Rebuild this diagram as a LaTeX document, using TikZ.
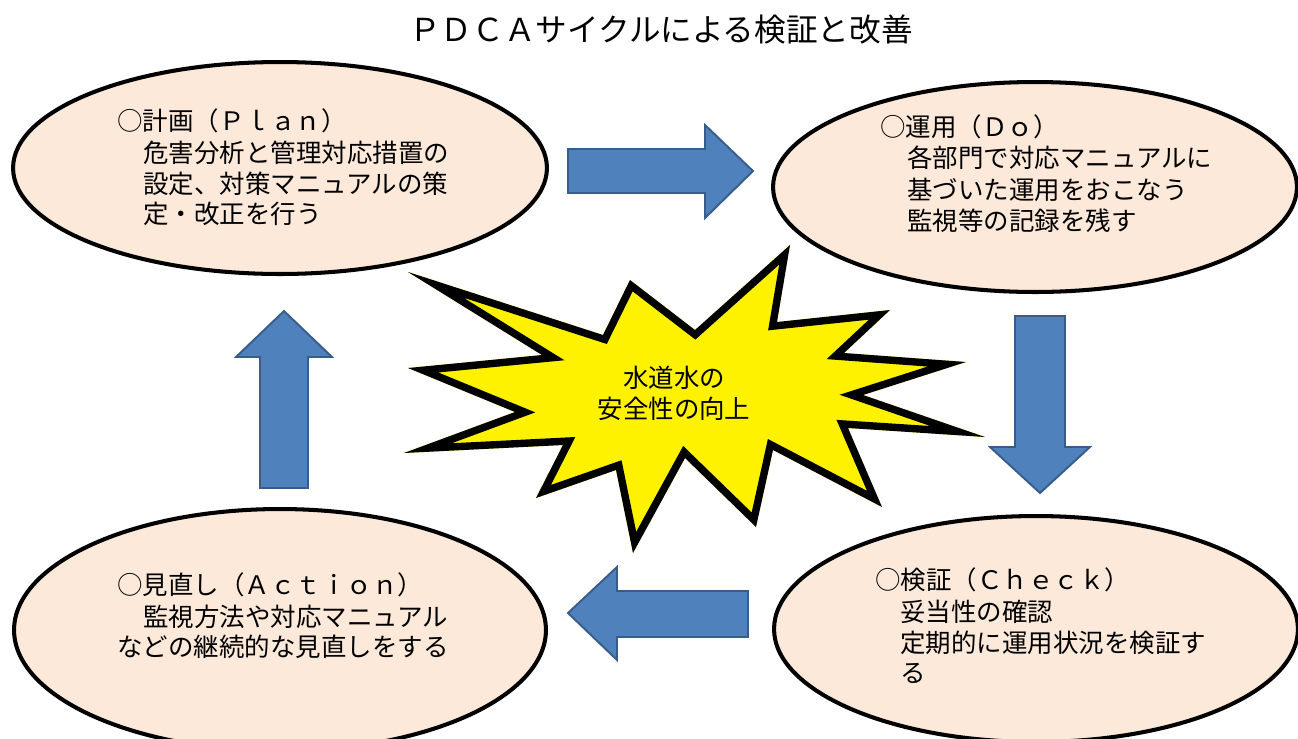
\documentclass[tikz,border=0pt]{standalone}
\usepackage{fontspec}
\setmainfont{Noto Sans CJK JP}
\usetikzlibrary{shapes.geometric}
\definecolor{peach}{HTML}{FDE9D9}
\definecolor{ablue}{HTML}{4F81BD}
\definecolor{ablueb}{HTML}{385D8A}
\def\starpath{(408,272) -- (603,335) -- (630,280) -- (695,330) -- (790,245) -- (777,322) -- (890,310) -- (844,353) -- (966,362) -- (863,395) -- (985,437) -- (848,428) -- (882,507) -- (773,450) -- (756,527) -- (685,458) -- (633,553) -- (616,470) -- (536,498) -- (563,445) -- (404,453) -- (515,412) -- (408,368) -- (542,355) -- cycle}
\begin{document}
\begin{tikzpicture}[x=0.02cm,y=-0.02cm,
  oval/.style={ellipse, draw=black, line width=2.3pt, fill=peach, inner sep=0pt},
  txt/.style={anchor=west, inner sep=0pt, font=\fontsize{14.5}{17}\selectfont},
  ctxt/.style={anchor=center, inner sep=0pt, font=\fontsize{14.5}{17}\selectfont},
  titletxt/.style={anchor=center, inner sep=0pt, font=\fontsize{18}{20}\selectfont},
  blockarrow/.style={fill=ablue, draw=ablueb, line width=1.1pt, line join=miter}]
\useasboundingbox (0,0) rectangle (1298,738);
\clip (0,0) rectangle (1298,738);
% title
\node[titletxt] (title) at (661,30) {ＰＤＣＡサイクルによる検証と改善};
% ellipses
\node[oval, minimum width=10.68cm, minimum height=4.24cm] (plan) at (280,168) {};
\node[oval, minimum width=10.48cm, minimum height=4.2cm] (do) at (1035,187) {};
\node[oval, minimum width=10.48cm, minimum height=4.52cm] (check) at (1036,629) {};
\node[oval, minimum width=10.64cm, minimum height=4.84cm] (act) at (280,630) {};
% block arrows
\draw[blockarrow] (568,149) -- (705,149) -- (705,125) -- (753,171) -- (705,218) -- (705,193) -- (568,193) -- cycle;
\draw[blockarrow] (1015,316) -- (1065,316) -- (1065,447) -- (1090,447) -- (1040,493) -- (990,447) -- (1015,447) -- cycle;
\draw[blockarrow] (748,591) -- (617,591) -- (617,567) -- (568,613) -- (617,660) -- (617,637) -- (748,637) -- cycle;
\draw[blockarrow] (260,488) -- (260,357) -- (236,357) -- (284,311) -- (332,357) -- (308,357) -- (308,488) -- cycle;
% star burst
\begin{scope}
  \clip \starpath;
  \fill[yellow] \starpath;
  \draw[line width=8.4pt, line join=miter, miter limit=40] \starpath;
\end{scope}
\node[ctxt] (core1) at (674,378) {水道水の};
\node[ctxt] (core2) at (674,409) {安全性の向上};
% plan text
\node[txt] (p1) at (117,121) {○計画（Ｐｌａｎ）};
\node[txt] (p2) at (143,153) {危害分析と管理対応措置の};
\node[txt] (p3) at (143,184) {設定、対策マニュアルの策};
\node[txt] (p4) at (143,214) {定・改正を行う};
% do text
\node[txt] (d1) at (880,127) {○運用（Ｄｏ）};
\node[txt] (d2) at (907,158) {各部門で対応マニュアルに};
\node[txt] (d3) at (907,190) {基づいた運用をおこなう};
\node[txt] (d4) at (907,221) {監視等の記録を残す};
% check text
\node[txt] (c1) at (875,580) {○検証（Ｃｈｅｃｋ）};
\node[txt] (c2) at (900,612) {妥当性の確認};
\node[txt] (c3) at (900,643) {定期的に運用状況を検証す};
\node[txt] (c4) at (900,673) {る};
% action text
\node[txt] (a1) at (117,585) {○見直し（Ａｃｔｉｏｎ）};
\node[txt] (a2) at (143,617) {監視方法や対応マニュアル};
\node[txt] (a3) at (117,647) {などの継続的な見直しをする};
\end{tikzpicture}
\end{document}
